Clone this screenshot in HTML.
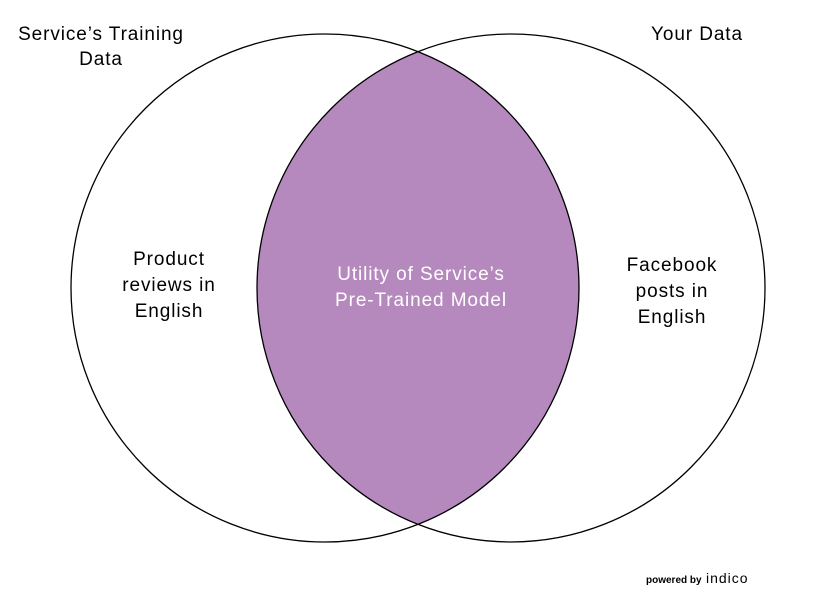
<!DOCTYPE html>
<html><head><style>
body{margin:0;background:#fff}
svg{display:block}
text{font-family:"Liberation Sans",sans-serif}
</style></head><body>
<svg width="830" height="603" viewBox="0 0 830 603">
<defs><clipPath id="c"><circle cx="325" cy="288" r="254"/></clipPath></defs>
<rect width="830" height="603" fill="#fff"/>
<circle cx="511" cy="288" r="254" fill="#b689be" clip-path="url(#c)"/>
<circle cx="325" cy="288" r="254" fill="none" stroke="#000" stroke-width="1.3"/>
<circle cx="511" cy="288" r="254" fill="none" stroke="#000" stroke-width="1.3"/>
<g font-size="19" fill="#000" text-anchor="middle" letter-spacing="0.9">
<text x="101" y="40">Service’s Training</text>
<text x="101" y="65">Data</text>
<text x="697" y="40">Your Data</text>
<text x="169" y="265">Product</text>
<text x="169" y="291">reviews in</text>
<text x="169" y="317">English</text>
<text x="672" y="271">Facebook</text>
<text x="672" y="297">posts in</text>
<text x="672" y="323">English</text>
<text x="421" y="280" fill="#fff">Utility of Service’s</text>
<text x="421" y="306" fill="#fff">Pre-Trained Model</text>
</g>
<text x="646" y="583" font-size="10" font-weight="bold">powered by</text>
<text x="706" y="583" font-size="14" letter-spacing="1">indico</text>
</svg>
</body></html>
